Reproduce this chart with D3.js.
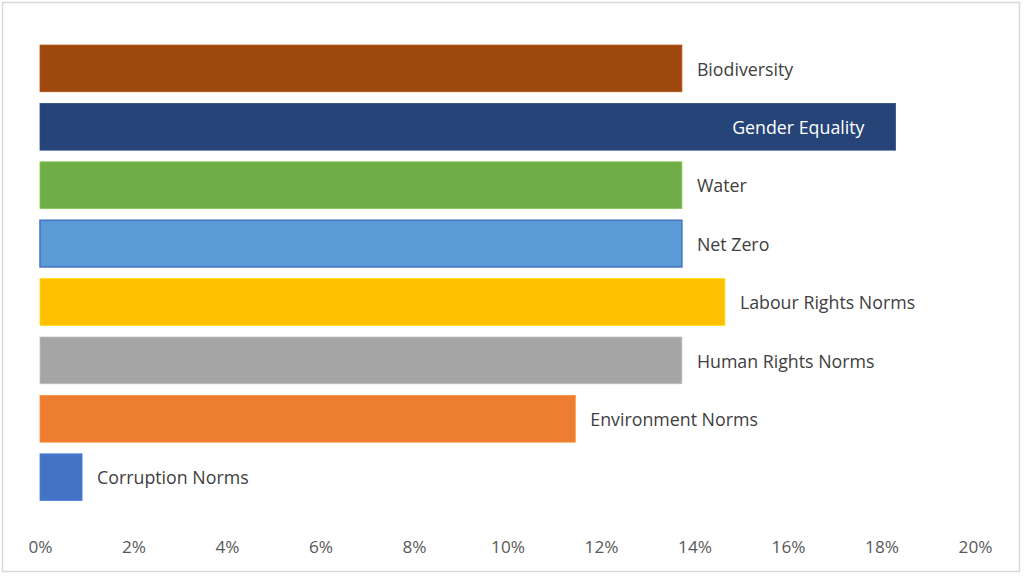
<!DOCTYPE html>
<meta charset="utf-8">
<script src="https://d3js.org/d3.v7.min.js"></script>
<style>
  body { margin: 0; background: #fff; }
  text { font-family: "Open Sans", "Noto Sans", sans-serif; }
</style>
<div id="chart"></div>
<script>

// data (share of mentions, %)
const categories = ["Biodiversity", "Gender Equality", "Water", "Net Zero",
  "Labour Rights Norms", "Human Rights Norms", "Environment Norms", "Corruption Norms"];
const values = [13.73, 18.3, 13.73, 13.73, 14.65, 13.73, 11.45, 0.9];
const colors = ["#9E480E", "#264478", "#70AD47", "#5B9BD5", "#FFC000", "#A5A5A5", "#ED7D31", "#4472C4"];
const labelInside = [false, true, false, false, false, false, false, false];
const xTicks = [0, 2, 4, 6, 8, 10, 12, 14, 16, 18, 20];

const width = 1024, height = 576;

const svg = d3.select("#chart")
  .append("svg")
    .attr("width", width)
    .attr("height", height);

// outer frame
svg.append("rect")
    .attr("x", 2.5).attr("y", 2.5)
    .attr("width", 1017).attr("height", 569)
    .attr("fill", "#fff")
    .attr("stroke", "#d9d9d9")
    .attr("stroke-width", 1.5);

const x = d3.scaleLinear()
    .domain([0, 20])
    .range([40, 975]);

const y = d3.scaleBand()
    .domain(categories)
    .range([39.2, 506.4])
    .paddingInner(0.2)
    .paddingOuter(0.1);

const data = categories.map((c, i) => ({ name: c, value: values[i], color: colors[i], inside: labelInside[i] }));

// bars
svg.selectAll(".bar")
  .data(data)
  .join("rect")
    .attr("class", "bar")
    .attr("x", x(0))
    .attr("y", d => y(d.name))
    .attr("width", d => x(d.value) - x(0))
    .attr("height", y.bandwidth())
    .attr("fill", d => d.color)
    .attr("stroke", d => d.name === "Net Zero" ? "#4472C4" : d3.color(d.color).brighter(0.4))
    .attr("stroke-width", d => d.name === "Net Zero" ? 1.5 : 0.8);

// category labels
svg.selectAll(".lbl")
  .data(data)
  .join("text")
    .attr("class", "lbl")
    .attr("x", d => d.inside ? x(d.value) - 31 : x(d.value) + 15)
    .attr("y", d => y(d.name) + y.bandwidth() / 2 + 1)
    .attr("dy", "0.35em")
    .attr("text-anchor", d => d.inside ? "end" : "start")
    .attr("fill", d => d.inside ? "#ffffff" : "#404040")
    .style("font-size", "17.8px")
    .text(d => d.name);

// x axis (labels only)
const xAxis = svg.append("g")
    .attr("transform", "translate(0,535)")
    .call(d3.axisBottom(x).tickValues(xTicks).tickFormat(d => d + "%").tickSize(0).tickPadding(0));
xAxis.select(".domain").remove();
xAxis.selectAll("text")
    .attr("dy", "0.35em")
    .attr("y", 12)
    .attr("fill", "#595959")
    .style("font-size", "17.2px")
    .style("font-family", "\"Open Sans\", \"Noto Sans\", sans-serif");

</script>
